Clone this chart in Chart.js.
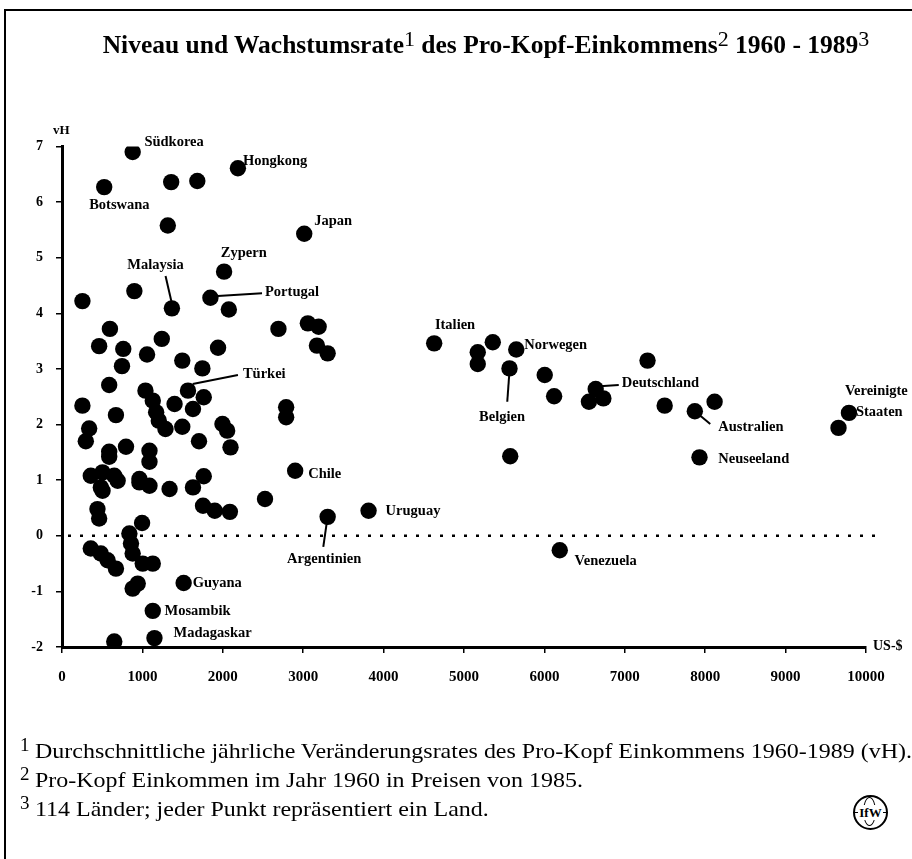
<!DOCTYPE html>
<html>
<head>
<meta charset="utf-8">
<script src="https://cdn.jsdelivr.net/npm/chart.js@4"></script>
<style>
  html,body{margin:0;padding:0;background:#fff;}
  #wrap{position:relative;width:912px;height:859px;overflow:hidden;font-family:"Liberation Serif","Times New Roman",serif;color:#000;}
  #frame{position:absolute;left:4px;top:9px;width:920px;height:900px;border-top:2px solid #000;border-left:2px solid #000;}
  canvas{position:absolute;left:0;top:0;}
  #title{position:absolute;left:0;width:972px;top:32px;text-align:center;font-weight:bold;font-size:25.5px;line-height:1;white-space:nowrap;}
  #title sup{font-weight:normal;font-size:22px;vertical-align:7px;line-height:0;}
  .sn{position:absolute;left:20px;font-size:19px;line-height:1;}
  .fn{position:absolute;left:35px;font-size:21.5px;line-height:1;white-space:nowrap;transform:scaleX(1.115);transform-origin:0 0;}
  #logo{position:absolute;left:853px;top:795px;width:31px;height:31px;border:2px solid #000;border-radius:50%;}
  #logo .mer{position:absolute;left:8px;top:0;width:11px;height:27px;border:1.5px solid #000;border-radius:50%;}
  #logo .eq{position:absolute;left:0;top:15px;width:31px;height:0;border-top:1.5px solid #000;}
  #logo .txt{position:absolute;left:0;top:0;width:31px;text-align:center;font-weight:bold;font-size:13px;line-height:31px;background:transparent;}
  #logo .txt span{background:#fff;padding:0 1px;}
</style>
</head>
<body>
<div id="wrap">
  <div id="frame"></div>
  <canvas id="c" width="912" height="859"></canvas>
  <div id="title">Niveau und Wachstumsrate<sup>1</sup> des Pro-Kopf-Einkommens<sup>2</sup> 1960 - 1989<sup>3</sup></div>
  <div class="sn" style="top:735px">1</div>
  <div class="fn" style="top:741px">Durchschnittliche jährliche Veränderungsrates des Pro-Kopf Einkommens 1960-1989 (vH).</div>
  <div class="sn" style="top:764px">2</div>
  <div class="fn" style="top:770px">Pro-Kopf Einkommen im Jahr 1960 in Preisen von 1985.</div>
  <div class="sn" style="top:793px">3</div>
  <div class="fn" style="top:799px">114 Länder; jeder Punkt repräsentiert ein Land.</div>
  <div id="logo"><div class="mer"></div><div class="eq"></div><div class="txt"><span>IfW</span></div></div>
</div>
<script>
// ---- data: per-capita income 1960 (US-$, 1985 prices) and average growth rate (vH)
const incomes = [
  879, 525, 1358, 1683, 2188, 1316, 3013, 2016, 900, 254,
  1367, 1846, 2075, 596, 2692, 3058, 3192, 3171, 3304, 462,
  762, 1058, 1241, 1496, 1746, 1941, 746, 587, 254, 671,
  1038, 1129, 1171, 1204, 1287, 1400, 1567, 1763, 1629, 1496,
  1704, 1996, 2054, 2096, 338, 296, 587, 796, 587, 1088,
  1088, 1763, 2788, 2788, 2900, 2525, 3304, 3813, 1629, 1338,
  963, 1088, 963, 358, 504, 650, 692, 483, 504, 441,
  462, 996, 1754, 1900, 2088, 358, 483, 567, 671, 838,
  858, 879, 1004, 1129, 879, 942, 1513, 1129, 1150, 650,
  4629, 5171, 5171, 5358, 5650, 5566, 6004, 6121, 6638, 6554,
  6733, 7283, 7496, 5575, 6191, 7871, 8117, 7929, 9788, 9658
];
const growth = [
  6.90, 6.27, 6.36, 6.38, 6.61, 5.58, 5.43, 4.75, 4.40, 4.22,
  4.09, 4.28, 4.07, 3.72, 3.72, 3.82, 3.76, 3.42, 3.28, 3.41,
  3.36, 3.26, 3.54, 3.15, 3.01, 3.38, 3.05, 2.71, 2.34, 2.17,
  2.61, 2.43, 2.22, 2.07, 1.92, 2.37, 2.61, 2.49, 2.28, 1.96,
  1.70, 2.01, 1.89, 1.59, 1.93, 1.70, 1.51, 1.60, 1.42, 1.53,
  1.33, 1.07, 2.31, 2.13, 1.17, 0.66, 0.34, 0.45, 0.87, 0.84,
  1.02, 0.90, 0.96, 1.08, 1.14, 1.08, 0.99, 0.87, 0.81, 0.48,
  0.31, 0.23, 0.54, 0.45, 0.43, -0.23, -0.32, -0.44, -0.59, 0.04,
  -0.14, -0.32, -0.50, -0.50, -0.95, -0.86, -0.85, -1.35, -1.84, -1.90,
  3.46, 3.30, 3.09, 3.48, 3.35, 3.01, 2.89, 2.51, 2.64, 2.41,
  2.47, 3.15, 2.34, 1.43, -0.26, 2.24, 2.41, 1.41, 2.21, 1.94
];
const xTicks = [0, 1000, 2000, 3000, 4000, 5000, 6000, 7000, 8000, 9000, 10000];
const yTicks = [-2, -1, 0, 1, 2, 3, 4, 5, 6, 7];
const countryNames = ["Südkorea","Hongkong","Botswana","Japan","Zypern","Malaysia","Portugal","Türkei","Chile","Uruguay","Argentinien","Guyana","Mosambik","Madagaskar","Italien","Norwegen","Belgien","Deutschland","Australien","Neuseeland","Vereinigte","Staaten","Venezuela"];
// label anchor positions in data units (income, growth)
const labelX = [1025, 2250, 338, 3138, 1975, 813, 2525, 2250, 3063, 4025, 2800, 1625, 1275, 1388, 4638, 5750, 5188, 6963, 8163, 8163, 9738, 9875, 6375];
const labelY = [7.07, 6.73, 5.94, 5.66, 5.08, 4.87, 4.38, 2.91, 1.10, 0.45, -0.43, -0.86, -1.35, -1.76, 3.79, 3.43, 2.14, 2.75, 1.96, 1.38, 2.60, 2.23, -0.45];
// leader lines [x1, y1, x2, y2] in data units
const leaders = [
  [1288, 4.67, 1363, 4.20],
  [1938, 4.31, 2488, 4.36],
  [1625, 2.73, 2188, 2.89],
  [3300, 0.31, 3250, -0.20],
  [5563, 2.91, 5538, 2.41],
  [6688, 2.69, 6925, 2.71],
  [7913, 2.19, 8063, 2.01]
];

const points = incomes.map((v, i) => ({x: v, y: growth[i]}));
const serif = '"Liberation Serif","Times New Roman",serif';

const overlay = {
  id: 'overlay',
  beforeDatasetsDraw(chart) {
    const {ctx, scales: {x, y}} = chart;
    const py = y.getPixelForValue(0);
    ctx.save();
    ctx.setLineDash([3, 9]);
    ctx.lineWidth = 2.5;
    ctx.strokeStyle = '#000';
    ctx.beginPath();
    ctx.moveTo(x.getPixelForValue(0) + 6, py);
    ctx.lineTo(x.right + 16, py);
    ctx.stroke();
    ctx.restore();
  },
  afterDatasetsDraw(chart) {
    const {ctx, scales: {x, y}} = chart;
    ctx.save();
    ctx.strokeStyle = '#000';
    ctx.lineWidth = 2;
    leaders.forEach(l => {
      ctx.beginPath();
      ctx.moveTo(x.getPixelForValue(l[0]), y.getPixelForValue(l[1]));
      ctx.lineTo(x.getPixelForValue(l[2]), y.getPixelForValue(l[3]));
      ctx.stroke();
    });
    ctx.fillStyle = '#000';
    ctx.font = 'bold 14.5px ' + serif;
    ctx.textAlign = 'left';
    ctx.textBaseline = 'middle';
    countryNames.forEach((n, i) => {
      ctx.fillText(n, x.getPixelForValue(labelX[i]), y.getPixelForValue(labelY[i]));
    });
    ctx.font = 'bold 13px ' + serif;
    ctx.fillText('vH', x.left - 9, y.top - 16);
    ctx.font = 'bold 14px ' + serif;
    ctx.fillText('US-$', x.right + 7, y.bottom - 1);
    ctx.restore();
  }
};

new Chart(document.getElementById('c'), {
  type: 'scatter',
  data: {
    datasets: [{
      data: points,
      backgroundColor: '#000',
      borderWidth: 0,
      pointRadius: 8.2,
      pointHoverRadius: 8.2
    }]
  },
  options: {
    responsive: false,
    animation: false,
    devicePixelRatio: 1,
    layout: {padding: {left: 0, top: 146.5, right: 46, bottom: 172}},
    plugins: {legend: {display: false}, tooltip: {enabled: false}, title: {display: false}},
    scales: {
      x: {
        type: 'linear',
        min: 0, max: 10000,
        afterFit(s) { s.height = 40; },
        afterBuildTicks(s) { s.ticks = xTicks.map(v => ({value: v})); },
        border: {display: true, width: 3, color: '#000'},
        grid: {display: true, drawOnChartArea: false, drawTicks: true, tickLength: 6, color: '#000', lineWidth: 1.5},
        ticks: {color: '#000', padding: 15, maxRotation: 0, font: {family: serif, size: 15, weight: 'bold'},
                callback: v => String(v)}
      },
      y: {
        type: 'linear',
        min: -2, max: 7,
        afterFit(s) { s.width = 62; },
        afterBuildTicks(s) { s.ticks = yTicks.map(v => ({value: v})); },
        border: {display: true, width: 3, color: '#000'},
        grid: {display: true, drawOnChartArea: false, drawTicks: true, tickLength: 6, color: '#000', lineWidth: 1.5},
        ticks: {color: '#000', padding: 13, font: {family: serif, size: 14, weight: 'bold'},
                callback: v => String(v)}
      }
    }
  },
  plugins: [overlay]
});
</script>
</body>
</html>
